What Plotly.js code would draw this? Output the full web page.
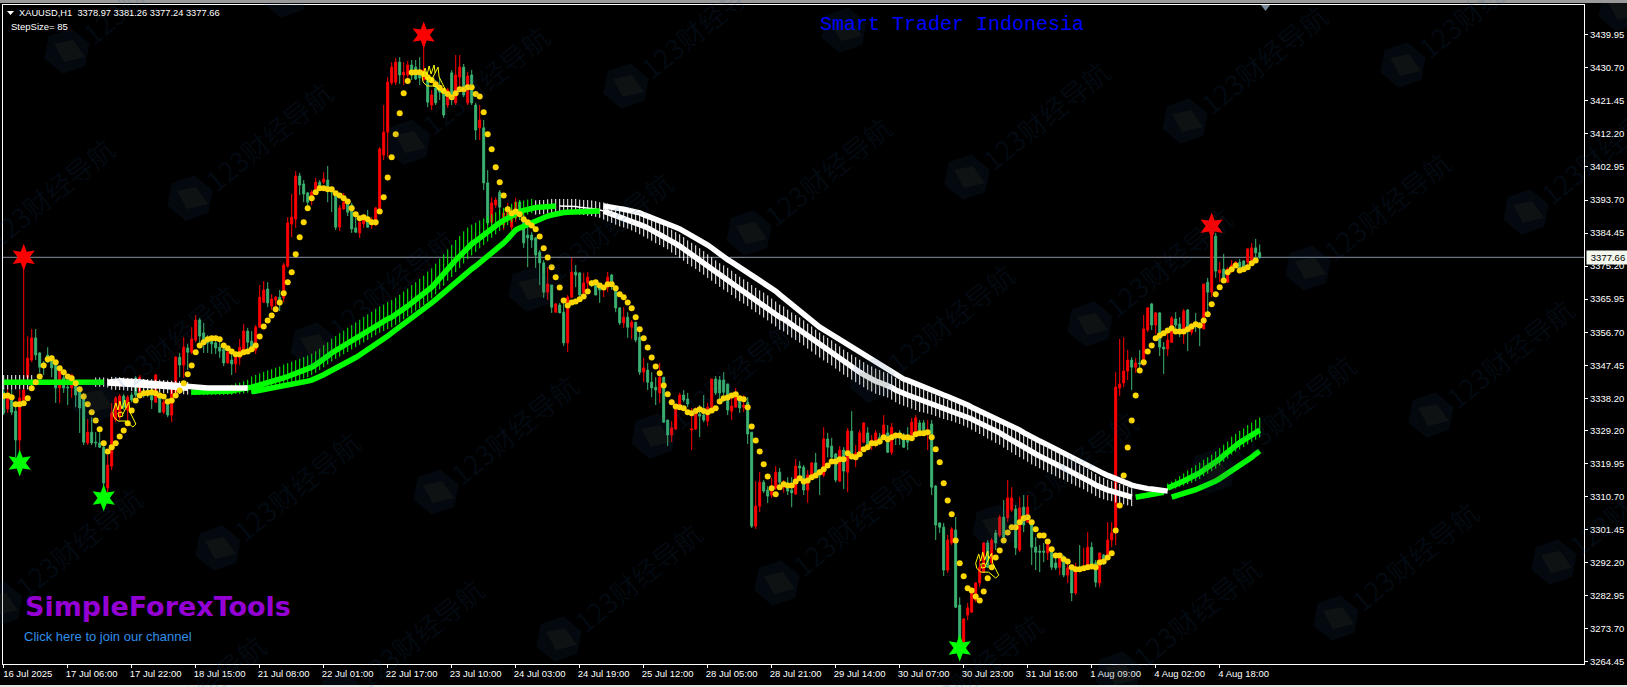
<!DOCTYPE html>
<html><head><meta charset="utf-8">
<script src="https://cdn.plot.ly/plotly-3.0.1.min.js"></script>
<style>html,body{margin:0;padding:0;background:#000;overflow:hidden}</style>
</head><body><div id="chart" style="width:1627px;height:687px"></div>
<script>
const opens=[
3339.9,3335.2,3338.5,3334.6,3326.5,3337.7,3344.1,3348.9,3355.1,3350.9,
3348.1,3350.3,3349.7,3348.3,3341.1,3343.9,3341.3,3341.1,3341.9,3341.1,
3339.1,3325.7,3328.7,3325.9,3325.7,3324.5,3313.1,3319.2,3332.1,3332.9,
3338.8,3334.9,3339.1,3343.9,3339.9,3340.2,3340.5,3339.9,3337.1,3338.3,
3334.3,3337.1,3333.5,3339.9,3349.7,3347.5,3352.3,3351.1,3354.5,3360.1,
3356.5,3354.5,3354.2,3353.7,3352.5,3352.0,3348.1,3348.9,3347.8,3349.5,
3351.7,3357.0,3354.2,3351.7,3358.1,3365.1,3368.8,3364.0,3365.7,3366.5,
3366.3,3375.2,3387.0,3388.4,3400.4,3398.2,3395.7,3394.3,3396.5,3398.7,
3398.7,3399.3,3397.1,3395.7,3386.1,3391.2,3392.9,3392.3,3385.9,3384.5,
3387.0,3388.7,3386.7,3386.7,3390.9,3406.3,3412.7,3426.5,3426.7,3432.3,
3428.7,3428.7,3431.5,3430.9,3429.5,3427.3,3427.3,3420.3,3425.1,3425.1,
3424.5,3420.3,3429.3,3420.9,3428.1,3430.9,3420.9,3428.7,3420.3,3413.9,
3413.9,3398.5,3387.5,3392.3,3395.9,3386.7,3388.7,3386.1,3388.7,3393.1,
3388.7,3383.9,3383.9,3383.1,3379.1,3376.1,3367.9,3369.9,3362.3,3364.3,
3362.3,3353.7,3366.5,3373.5,3373.3,3367.7,3370.5,3370.7,3369.9,3369.3,
3369.1,3369.3,3372.7,3369.3,3363.5,3359.3,3360.9,3358.1,3359.5,3355.3,
3345.5,3346.1,3342.7,3341.3,3339.7,3344.1,3332.1,3327.9,3329.6,3335.7,
3339.1,3338.0,3329.3,3329.6,3333.8,3333.5,3331.8,3335.7,3343.6,3343.3,
3343.3,3342.2,3334.6,3335.7,3338.0,3335.7,3337.1,3328.7,3302.4,3308.0,
3314.7,3312.5,3311.1,3313.1,3317.5,3313.3,3314.5,3312.5,3311.4,3319.2,
3318.9,3312.5,3316.7,3320.1,3317.3,3316.7,3326.8,3324.8,3322.6,3315.0,
3323.7,3317.5,3329.0,3321.5,3323.1,3325.9,3328.5,3325.7,3325.7,3327.3,
3327.3,3328.5,3323.1,3327.6,3328.5,3327.3,3327.3,3327.9,3328.5,3331.3,
3331.3,3328.5,3331.0,3313.6,3303.3,3302.1,3290.1,3297.7,3301.3,3280.3,
3269.9,3277.5,3278.3,3281.7,3286.5,3289.5,3297.7,3292.1,3300.5,3299.9,
3304.9,3304.7,3306.9,3307.2,3295.7,3307.7,3303.5,3303.5,3296.5,3295.4,
3295.4,3294.9,3295.7,3292.1,3290.9,3293.7,3288.7,3290.9,3283.7,3290.9,
3290.1,3290.7,3296.5,3292.1,3286.5,3294.3,3293.7,3298.5,3300.5,3341.1,
3342.5,3345.8,3348.9,3346.9,3348.1,3347.5,3357.3,3364.6,3358.7,3362.1,
3352.5,3352.0,3353.9,3360.4,3359.0,3356.7,3362.9,3356.7,3359.3,3359.3,
3357.6,3370.7,3367.9,3383.6,3373.3,3374.4,3370.7,3374.1,3374.9,3376.3,
3376.6,3376.3,3376.9,3380.3,3378.97];
const highs=[
3341.1,3341.1,3340.8,3336.9,3340.5,3377.7,3355.6,3357.6,3357.6,3351.1,
3348.6,3352.5,3350.3,3348.9,3346.7,3344.7,3344.7,3345.0,3342.5,3341.3,
3339.7,3332.4,3332.9,3328.7,3328.7,3325.9,3322.3,3336.9,3338.8,3339.4,
3339.4,3339.1,3339.9,3344.4,3344.7,3340.8,3341.1,3341.1,3345.0,3339.7,
3337.7,3337.7,3343.0,3350.0,3350.9,3355.3,3353.4,3358.1,3361.5,3360.7,
3359.3,3355.9,3355.3,3355.1,3355.1,3352.5,3352.5,3351.7,3350.9,3354.8,
3359.0,3357.9,3357.0,3358.7,3369.9,3371.0,3370.7,3367.4,3366.8,3368.5,
3376.1,3388.9,3395.4,3401.8,3401.3,3399.3,3395.9,3396.5,3399.9,3399.3,
3401.5,3403.2,3397.3,3395.9,3392.3,3395.7,3393.1,3392.9,3390.1,3388.9,
3389.5,3390.9,3388.9,3391.7,3408.5,3420.3,3428.1,3432.3,3433.5,3433.7,
3432.3,3432.6,3432.9,3432.9,3433.7,3439.9,3428.7,3424.5,3427.3,3427.9,
3425.1,3425.1,3430.1,3434.3,3434.3,3431.8,3429.5,3430.1,3420.9,3420.3,
3416.1,3402.1,3394.5,3394.5,3396.5,3390.9,3392.9,3391.5,3394.3,3393.7,
3389.5,3388.1,3384.7,3383.3,3379.7,3376.9,3374.9,3369.9,3364.9,3364.9,
3365.7,3367.1,3377.5,3375.5,3373.5,3373.3,3373.5,3371.3,3371.3,3370.5,
3369.6,3373.5,3373.0,3369.9,3363.7,3363.7,3362.3,3360.1,3359.5,3358.1,
3349.5,3348.1,3345.5,3344.1,3348.1,3344.1,3332.1,3331.8,3336.3,3339.7,
3340.5,3339.7,3335.5,3335.7,3336.3,3339.1,3336.9,3343.6,3344.4,3344.4,
3345.5,3342.2,3338.3,3341.1,3338.5,3339.1,3338.5,3328.7,3315.0,3317.5,
3315.3,3313.6,3315.9,3319.2,3318.7,3315.3,3316.1,3316.1,3321.2,3320.6,
3319.5,3318.1,3320.3,3322.9,3318.4,3330.1,3328.5,3327.1,3322.9,3324.8,
3324.5,3329.9,3334.6,3325.1,3329.3,3331.5,3330.1,3327.9,3329.3,3328.5,
3333.5,3330.7,3331.3,3328.5,3329.3,3328.5,3330.1,3332.7,3333.5,3332.1,
3332.1,3332.1,3332.1,3313.9,3303.3,3303.3,3299.9,3302.1,3304.9,3282.5,
3276.7,3280.9,3283.9,3286.7,3292.9,3297.9,3298.5,3299.1,3301.3,3305.5,
3309.7,3315.3,3313.3,3308.3,3310.5,3311.1,3311.1,3304.1,3299.3,3297.1,
3297.7,3298.5,3296.5,3294.3,3294.9,3294.3,3292.1,3290.9,3292.1,3297.1,
3296.3,3300.7,3297.9,3292.9,3294.9,3294.6,3303.5,3303.5,3345.5,3354.8,
3355.3,3351.7,3349.7,3349.5,3351.7,3361.5,3363.7,3364.9,3362.3,3362.3,
3353.9,3357.3,3361.2,3362.3,3360.9,3363.2,3363.2,3359.3,3362.1,3359.5,
3370.2,3371.9,3384.2,3384.5,3376.3,3378.6,3374.9,3376.9,3376.6,3377.2,
3376.9,3380.3,3381.7,3382.8,3381.26];
const lows=[
3333.5,3334.1,3333.5,3321.7,3323.1,3337.1,3342.7,3348.3,3348.9,3345.3,
3344.7,3348.1,3344.1,3336.9,3336.9,3339.7,3336.3,3338.3,3335.7,3328.5,
3325.1,3325.1,3325.1,3324.5,3324.3,3313.1,3311.7,3318.1,3331.5,3332.1,
3334.9,3330.7,3337.1,3338.5,3338.5,3338.3,3338.5,3335.2,3336.9,3334.1,
3333.8,3332.9,3331.5,3339.7,3344.1,3343.9,3346.1,3350.6,3353.9,3352.5,
3350.9,3350.9,3350.6,3350.6,3349.5,3347.2,3347.8,3344.7,3345.3,3347.5,
3351.1,3351.1,3351.1,3350.6,3357.9,3364.9,3363.7,3362.9,3362.3,3362.6,
3365.1,3374.7,3383.3,3385.9,3395.1,3393.1,3391.7,3392.3,3395.1,3396.5,
3398.2,3393.1,3390.3,3385.3,3385.0,3390.9,3389.2,3384.5,3384.5,3383.1,
3385.9,3385.9,3385.6,3386.4,3390.3,3404.9,3405.7,3425.9,3425.9,3426.2,
3425.9,3427.9,3427.3,3427.3,3425.9,3427.3,3419.7,3418.9,3420.3,3421.7,
3416.7,3419.5,3420.3,3420.3,3424.5,3422.5,3420.3,3420.3,3410.5,3410.5,
3396.5,3386.7,3385.9,3391.5,3389.5,3385.3,3387.5,3385.3,3387.5,3388.1,
3380.3,3374.9,3380.3,3374.7,3369.9,3366.3,3365.7,3362.1,3362.1,3362.1,
3352.8,3351.1,3366.3,3369.3,3366.5,3367.1,3367.9,3369.3,3367.1,3364.9,
3366.5,3367.9,3368.5,3362.3,3358.7,3357.9,3355.1,3354.8,3353.9,3344.7,
3342.7,3340.5,3338.5,3336.3,3336.9,3331.3,3324.8,3325.9,3329.3,3335.5,
3337.1,3335.7,3323.7,3329.3,3327.3,3331.5,3330.4,3335.5,3339.1,3337.1,
3337.1,3333.5,3332.1,3335.7,3334.1,3334.3,3325.4,3301.9,3301.6,3306.3,
3311.7,3308.9,3310.3,3312.5,3313.1,3311.7,3311.1,3307.7,3311.1,3315.3,
3311.1,3308.9,3316.4,3316.7,3311.1,3316.1,3321.7,3320.9,3314.7,3314.7,
3312.8,3311.9,3321.7,3318.9,3322.9,3325.7,3323.7,3323.7,3324.5,3325.1,
3326.5,3322.9,3322.3,3325.1,3325.1,3324.3,3323.7,3327.3,3327.9,3328.2,
3328.5,3323.7,3311.1,3298.5,3300.5,3288.4,3289.3,3297.1,3279.5,3269.1,
3269.7,3276.1,3278.1,3281.1,3285.3,3289.3,3290.7,3291.5,3295.7,3299.3,
3298.5,3303.5,3306.3,3294.3,3295.1,3300.7,3303.3,3291.5,3290.1,3289.5,
3292.3,3292.9,3290.1,3290.1,3288.7,3288.1,3286.5,3281.4,3283.1,3289.5,
3289.8,3290.1,3290.7,3285.3,3285.3,3291.5,3293.7,3296.5,3297.1,3338.8,
3341.3,3343.3,3340.5,3345.3,3346.1,3347.2,3356.7,3357.3,3356.2,3350.0,
3345.0,3350.0,3353.7,3356.2,3355.3,3353.4,3351.4,3355.9,3356.7,3352.8,
3357.6,3360.9,3366.5,3371.9,3370.7,3371.3,3370.5,3373.3,3374.7,3373.5,
3374.1,3375.5,3376.3,3377.5,3377.24];
const closes=[
3334.1,3338.5,3334.3,3326.5,3338.3,3340.5,3349.4,3355.1,3350.3,3346.9,
3346.9,3348.3,3346.7,3341.1,3346.7,3341.1,3341.1,3344.7,3339.1,3335.5,
3325.9,3328.7,3325.7,3325.7,3324.5,3314.5,3319.5,3334.1,3338.3,3338.8,
3335.7,3338.5,3337.7,3339.1,3344.1,3339.4,3339.7,3337.7,3344.7,3334.3,
3337.1,3333.5,3342.7,3349.7,3347.5,3352.5,3351.1,3354.8,3360.1,3355.6,
3354.5,3353.7,3353.4,3352.3,3351.4,3348.1,3351.1,3347.8,3349.7,3352.5,
3357.0,3353.9,3352.3,3358.1,3366.5,3368.5,3364.9,3366.0,3366.5,3364.3,
3375.5,3387.3,3388.9,3400.4,3397.9,3395.4,3393.1,3395.9,3398.7,3397.3,
3399.6,3397.1,3395.9,3386.1,3391.5,3393.1,3390.3,3385.6,3384.7,3387.5,
3388.7,3386.1,3388.1,3391.5,3408.0,3412.7,3426.7,3430.9,3432.3,3428.7,
3429.5,3431.5,3428.7,3427.6,3427.9,3430.1,3421.1,3423.1,3420.9,3423.9,
3417.5,3424.5,3423.1,3428.7,3430.9,3423.1,3428.4,3420.9,3413.3,3416.1,
3398.5,3387.3,3392.9,3393.7,3391.7,3390.1,3391.5,3390.3,3393.1,3389.5,
3381.7,3383.1,3382.5,3378.3,3376.1,3367.9,3370.2,3363.7,3364.6,3362.1,
3353.7,3366.5,3373.5,3372.7,3367.1,3370.5,3372.1,3369.9,3367.1,3368.5,
3369.3,3372.1,3370.7,3363.5,3359.3,3360.9,3358.1,3359.5,3354.5,3345.5,
3346.7,3342.7,3341.1,3340.5,3344.1,3331.5,3327.9,3329.9,3335.7,3339.1,
3337.7,3336.6,3329.6,3334.9,3333.2,3332.1,3335.7,3343.6,3339.7,3339.7,
3339.9,3334.9,3336.0,3339.1,3335.5,3336.3,3328.2,3302.4,3308.0,3314.7,
3312.2,3310.8,3313.3,3317.5,3314.7,3314.7,3312.2,3311.7,3319.2,3318.7,
3312.5,3316.7,3320.1,3317.3,3316.7,3326.8,3324.5,3321.7,3315.3,3323.7,
3317.8,3329.0,3322.3,3322.9,3328.5,3331.3,3324.5,3326.5,3328.5,3325.7,
3330.7,3323.1,3330.1,3327.1,3327.1,3324.5,3325.9,3331.5,3332.7,3328.5,
3328.7,3329.3,3313.3,3302.7,3302.1,3290.1,3298.5,3301.6,3279.7,3270.5,
3276.4,3279.5,3283.7,3286.5,3290.9,3297.7,3290.9,3298.5,3297.7,3304.9,
3299.3,3310.3,3310.3,3296.3,3307.5,3302.7,3307.7,3296.5,3295.1,3295.1,
3295.1,3297.7,3290.9,3290.7,3293.7,3288.7,3290.7,3283.7,3290.1,3290.1,
3290.9,3296.5,3290.9,3286.7,3294.9,3292.1,3298.5,3300.5,3341.3,3342.2,
3345.8,3348.9,3346.9,3348.1,3347.8,3357.6,3363.5,3358.7,3362.1,3352.5,
3352.0,3354.5,3360.7,3358.7,3357.6,3362.6,3357.3,3358.7,3358.4,3357.9,
3370.2,3367.9,3383.9,3373.8,3374.1,3371.9,3374.4,3375.5,3376.3,3374.1,
3374.7,3380.0,3380.3,3378.9,3377.66];
const trendDots=[
3338.8,3339.0,3338.5,3336.5,3336.5,3336.8,3338.2,3341.0,3342.7,3344.3,
3347.4,3349.1,3349.4,3348.3,3346.6,3345.5,3344.3,3343.8,3342.4,3340.7,
3338.7,3336.5,3334.3,3332.0,3329.5,3325.6,3323.3,3324.5,3325.6,3327.5,
3329.2,3331.2,3334.8,3337.6,3339.0,3339.6,3339.7,3339.9,3339.6,3339.0,
3338.7,3337.3,3337.6,3339.0,3340.4,3342.4,3344.9,3347.4,3351.1,3353.0,
3353.9,3354.7,3355.0,3355.0,3354.7,3353.0,3352.2,3351.3,3350.5,3350.5,
3351.1,3351.3,3351.9,3353.0,3355.5,3358.3,3360.0,3361.4,3363.1,3365.0,
3367.6,3370.7,3373.5,3378.5,3383.3,3387.5,3391.4,3394.2,3395.9,3397.0,
3397.0,3396.7,3396.7,3395.6,3395.0,3394.2,3393.3,3391.4,3389.7,3388.6,
3388.9,3388.3,3387.5,3387.5,3390.5,3394.5,3400.0,3405.7,3412.1,3418.0,
3423.6,3427.0,3429.4,3429.5,3429.5,3429.0,3428.1,3427.2,3426.1,3425.1,
3424.2,3423.4,3422.5,3423.6,3424.7,3424.7,3425.3,3425.3,3423.4,3422.7,
3418.3,3412.1,3407.9,3402.9,3398.7,3395.0,3391.1,3390.0,3390.5,3389.7,
3388.3,3387.5,3386.6,3385.5,3383.5,3380.2,3377.6,3374.9,3372.1,3369.2,
3365.6,3364.2,3365.0,3365.3,3365.9,3366.7,3368.1,3370.4,3370.7,3369.8,
3369.2,3370.1,3370.1,3369.0,3367.3,3366.5,3365.0,3363.4,3360.9,3357.5,
3355.0,3352.4,3349.6,3347.1,3345.2,3341.8,3339.3,3337.1,3335.9,3335.7,
3335.4,3334.3,3334.0,3334.6,3335.1,3334.6,3334.3,3334.8,3335.4,3337.3,
3338.2,3338.4,3339.0,3339.3,3338.2,3337.9,3335.7,3330.3,3326.4,3323.3,
3319.7,3316.3,3313.0,3311.3,3313.3,3314.1,3313.8,3313.8,3314.9,3315.8,
3314.9,3315.2,3316.1,3316.6,3317.5,3318.3,3319.4,3320.5,3320.5,3321.1,
3321.1,3322.8,3321.9,3321.7,3322.5,3323.9,3324.5,3325.6,3325.6,3326.1,
3327.3,3326.7,3327.3,3327.8,3327.8,3327.3,3327.3,3327.0,3328.1,3328.4,
3328.4,3328.7,3327.3,3323.9,3320.3,3314.4,3309.6,3305.7,3298.4,3292.0,
3288.4,3285.0,3284.4,3282.7,3281.6,3284.1,3287.8,3290.9,3293.6,3295.6,
3298.4,3300.6,3302.1,3302.1,3303.5,3304.6,3304.9,3303.5,3301.5,3299.8,
3299.8,3298.1,3295.9,3294.2,3294.2,3293.1,3292.5,3290.9,3290.3,3290.3,
3290.6,3290.9,3291.1,3290.9,3292.2,3292.5,3293.6,3294.8,3301.2,3308.2,
3316.6,3324.4,3332.0,3339.0,3346.0,3348.3,3351.3,3353.0,3355.0,3355.8,
3356.4,3357.2,3357.8,3356.9,3356.9,3356.9,3357.5,3358.3,3358.9,3358.6,
3360.0,3361.7,3364.5,3367.3,3369.3,3371.2,3373.5,3374.3,3375.4,3374.0,
3374.3,3374.9,3376.0,3376.8];
const fastLine=[
3342.7,3342.7,3342.7,3342.7,3342.7,3342.7,3342.7,3342.7,3342.7,3342.7,
3342.7,3342.7,3342.7,3342.7,3342.7,3342.7,3342.7,3342.7,3342.7,3342.7,
3342.7,3342.7,3342.7,3342.7,3342.7,3342.7,3342.5,3342.4,3342.3,3342.3,
3342.2,3342.1,3342.0,3342.0,3341.9,3341.8,3341.8,3341.7,3341.6,3341.6,
3341.5,3341.4,3341.3,3341.3,3341.2,3341.1,3341.0,3339.9,3339.9,3339.9,
3339.9,3339.9,3339.9,3339.9,3339.9,3339.9,3340.1,3340.2,3340.5,3340.6,
3340.8,3341.1,3341.3,3341.6,3341.9,3342.2,3342.5,3342.7,3343.0,3343.3,
3343.9,3344.3,3344.7,3345.1,3345.5,3346.0,3346.4,3346.9,3347.6,3348.3,
3349.2,3350.0,3350.9,3351.6,3352.3,3353.0,3353.7,3354.4,3355.1,3355.8,
3356.5,3357.2,3357.9,3358.6,3359.3,3359.8,3360.4,3360.9,3361.6,3362.3,
3363.2,3364.0,3364.9,3365.7,3366.5,3367.4,3368.4,3369.3,3370.5,3371.9,
3373.0,3374.4,3375.5,3376.9,3378.0,3379.3,3380.5,3381.4,3382.2,3383.1,
3383.9,3384.7,3385.6,3386.4,3387.3,3388.0,3388.7,3389.4,3390.1,3390.5,
3390.8,3391.2,3391.5,3391.6,3391.7,3391.7,3391.9,3392.0,3392.0,3392.0,
3392.0,3392.0,3391.9,3391.9,3391.7,3391.6,3391.5,3391.4,3391.2,3390.9,
3390.6,3390.2,3389.8,3389.4,3388.9,3388.7,3388.4,3388.0,3387.5,3387.0,
3386.4,3385.9,3385.3,3384.7,3384.2,3383.6,3383.1,3382.2,3381.5,3380.8,
3380.0,3379.1,3378.4,3377.7,3376.9,3376.1,3375.2,3374.4,3373.5,3372.7,
3372.0,3371.3,3370.5,3369.6,3368.8,3368.1,3367.4,3366.5,3365.7,3365.0,
3364.3,3363.5,3362.6,3361.8,3360.9,3360.4,3359.5,3358.7,3358.0,3357.3,
3356.5,3355.6,3354.8,3353.9,3353.1,3352.3,3351.6,3350.9,3350.0,3349.2,
3348.3,3347.6,3346.9,3346.2,3345.5,3344.8,3344.1,3343.6,3343.0,3342.6,
3342.2,3341.8,3341.2,3340.5,3339.9,3339.5,3339.1,3338.7,3338.3,3337.8,
3337.4,3337.0,3336.6,3336.2,3335.7,3335.3,3334.9,3334.6,3334.2,3333.8,
3333.4,3332.9,3332.4,3331.8,3331.3,3330.7,3330.1,3329.6,3329.0,3328.5,
3327.8,3327.1,3326.4,3325.7,3325.1,3324.5,3323.8,3323.1,3322.6,3322.0,
3321.5,3320.9,3320.3,3319.8,3319.2,3318.7,3318.1,3317.5,3317.0,3316.4,
3315.9,3315.2,3314.6,3313.9,3313.3,3312.9,3312.5,3312.2,3311.8,3311.5,
3311.2,3310.8,3310.5,3310.5,3310.7,3310.8,3311.0,3311.1,3311.4,3311.7,
3311.9,3313.1,3313.5,3313.9,3314.5,3315.0,3315.6,3316.1,3316.7,3317.3,
3318.1,3318.8,3319.5,3320.3,3321.2,3322.2,3323.1,3324.3,3325.1,3325.8,
3326.5,3327.3,3328.0,3328.7,3329.3];
const slowLine=[
3342.7,3342.7,3342.7,3342.7,3342.7,3342.7,3342.7,3342.7,3342.7,3342.7,
3342.7,3342.7,3342.7,3342.7,3342.7,3342.7,3342.7,3342.7,3342.7,3342.7,
3342.7,3342.7,3342.7,3342.7,3342.7,3342.7,3342.7,3342.9,3343.1,3343.1,
3343.0,3343.0,3342.9,3342.8,3342.8,3342.7,3342.5,3342.4,3342.3,3342.2,
3342.1,3341.9,3341.8,3341.7,3341.5,3341.4,3341.3,3341.3,3341.2,3341.2,
3341.1,3341.1,3341.1,3341.1,3341.1,3341.1,3341.1,3341.1,3341.1,3341.1,
3341.1,3341.1,3340.0,3340.2,3340.4,3340.5,3340.6,3340.8,3341.1,3341.3,
3341.6,3341.8,3342.1,3342.3,3342.5,3342.7,3343.0,3343.3,3343.7,3344.3,
3344.8,3345.4,3346.0,3346.4,3346.8,3347.5,3348.1,3348.9,3349.6,3350.3,
3351.0,3351.7,3352.4,3353.1,3353.9,3354.8,3355.6,3356.5,3357.3,3358.1,
3359.0,3359.8,3360.7,3361.5,3362.3,3363.2,3364.0,3364.9,3365.8,3366.8,
3367.7,3368.6,3369.6,3370.6,3371.6,3372.6,3373.5,3374.4,3375.2,3376.1,
3376.9,3377.7,3378.6,3379.6,3380.5,3381.7,3382.8,3384.0,3385.3,3385.9,
3386.4,3387.0,3387.5,3388.0,3388.4,3388.8,3389.2,3389.5,3389.8,3390.1,
3390.2,3390.3,3390.3,3390.4,3390.4,3390.5,3390.6,3390.6,3390.6,3390.6,
3392.0,3391.9,3391.7,3391.5,3391.3,3391.1,3390.9,3390.6,3390.3,3390.1,
3389.6,3389.2,3388.8,3388.4,3388.0,3387.5,3387.3,3386.7,3386.1,3385.6,
3385.0,3384.5,3383.9,3383.2,3382.5,3381.8,3381.1,3380.3,3379.4,3378.6,
3377.7,3377.0,3376.3,3375.6,3374.9,3374.2,3373.5,3372.8,3372.1,3371.4,
3370.7,3369.9,3369.1,3368.2,3367.2,3366.3,3365.4,3364.4,3363.5,3362.3,
3361.5,3360.7,3359.8,3359.0,3358.1,3357.4,3356.7,3355.9,3355.2,3354.5,
3353.7,3353.0,3352.3,3351.6,3350.9,3350.2,3349.5,3348.8,3348.1,3347.4,
3346.8,3346.1,3345.5,3344.8,3344.1,3343.6,3343.2,3342.7,3342.2,3341.8,
3341.3,3340.9,3340.5,3339.9,3339.5,3339.1,3338.7,3338.3,3337.8,3337.4,
3336.9,3336.3,3335.7,3335.2,3334.6,3334.1,3333.6,3333.2,3332.7,3332.1,
3331.5,3331.0,3330.4,3329.9,3329.3,3328.6,3327.9,3327.3,3326.8,3326.2,
3325.7,3325.1,3324.5,3324.0,3323.4,3322.9,3322.3,3321.7,3321.2,3320.6,
3320.1,3319.4,3318.8,3318.1,3317.5,3317.1,3316.6,3316.1,3315.7,3315.3,
3314.9,3314.3,3313.9,3313.6,3313.3,3313.1,3312.9,3312.8,3312.6,3312.5,
3312.4,3312.2,3310.5,3310.8,3311.1,3311.4,3311.8,3312.2,3312.6,3313.1,
3313.5,3313.9,3314.5,3315.0,3315.7,3316.4,3317.1,3317.8,3318.7,3319.5,
3320.2,3320.9,3321.7,3322.6,3323.4];
const hairHalf=[
2,2,2,2,2,2,2,2,0,0,
0,0,0,0,0,0,0,0,0,0,
0,0,0,1.3,1.3,1.3,1.3,1.8,1.8,1.8,
1.8,1.8,1.8,1.8,1.8,1.8,1.8,1.8,1.8,1.8,
1.8,1.8,1.8,1.8,1.8,1.8,1.8,1.1,1.1,1.1,
1.1,1.1,1.1,1.1,1.1,1.1,1.3,1.4,1.5,1.6,
1.7,1.8,2.4,2.5,2.6,2.7,2.8,2.9,3.0,3.0,
3.0,3.0,3.0,3.0,3.0,3.0,3.0,3.0,3.0,3.0,
3.1,3.1,3.2,3.2,3.3,3.3,3.4,3.4,3.5,3.5,
3.6,3.6,3.6,3.7,3.7,3.7,3.8,3.8,3.8,3.9,
3.9,3.9,4.0,4.0,4.1,4.1,4.2,4.2,4.3,4.3,
4.4,4.4,4.5,4.5,4.5,4.5,4.4,4.3,4.1,3.9,
3.7,3.5,3.3,3.1,3.0,2.8,2.7,2.6,2.5,2.4,
2.2,2.1,2.0,2.0,2.0,2.0,2.0,2.0,2.0,2.0,
2.0,2.0,2.1,2.1,2.1,2.1,2.2,2.2,2.2,2.2,
2.4,2.5,2.5,2.6,2.6,2.7,2.7,2.8,2.8,2.9,
2.9,3.0,3.0,3.1,3.1,3.1,3.2,3.2,3.2,3.3,
3.3,3.3,3.3,3.3,3.3,3.3,3.3,3.3,3.3,3.3,
3.4,3.4,3.4,3.4,3.4,3.4,3.4,3.4,3.4,3.4,
3.5,3.5,3.5,3.5,3.5,3.5,3.5,3.5,3.5,3.5,
3.5,3.5,3.5,3.5,3.5,3.5,3.5,3.5,3.5,3.5,
3.5,3.5,3.5,3.5,3.5,3.5,3.5,3.5,3.5,3.5,
3.4,3.4,3.4,3.4,3.4,3.4,3.4,3.4,3.4,3.4,
3.2,3.1,3.0,3.0,2.9,2.9,2.8,2.8,2.8,2.8,
2.9,2.9,3.0,3.0,3.1,3.1,3.2,3.2,3.3,3.3,
3.4,3.4,3.4,3.4,3.4,3.4,3.4,3.4,3.4,3.4,
3.4,3.4,3.4,3.4,3.4,3.3,3.3,3.3,3.3,3.2,
3.2,3.2,3.1,3.1,3.0,3.0,2.9,2.8,2.8,2.7,
2.7,2.6,2.5,0,0,0,0,0,0,0,
0,1.0,1.1,1.3,1.5,1.7,1.9,2.1,2.2,2.3,
2.3,2.3,2.3,2.4,2.4,2.4,2.4,2.5,2.5,2.6,
2.6,2.7,2.7,2.8,2.8];
const starRedX=[5,105,302], starRedY=[3377.7,3439.9,3386.4];
const starGreenX=[4,25,239], starGreenY=[3320.1,3310.3,3268.3];
const handX=[27.3,104.6,243], handY=[3337.7,3431.5,3295.4];
const priceTicks=[3439.95,3430.70,3421.45,3412.20,3402.95,3393.70,3384.45,3375.20,3365.95,3356.70,3347.45,3338.20,3329.20,3319.95,3310.70,3301.45,3292.20,3282.95,3273.70,3264.45];
const priceLabels=["3439.95","3430.70","3421.45","3412.20","3402.95","3393.70","3384.45","3375.20","3365.95","3356.70","3347.45","3338.20","3329.20","3319.95","3310.70","3301.45","3292.20","3282.95","3273.70","3264.45"];
const timeTicks=[0,16,32,48,64,80,96,112,128,144,160,176,192,208,224,240,256,272,288,304];
const timeLabels=["16 Jul 2025","17 Jul 06:00","17 Jul 22:00","18 Jul 15:00","21 Jul 08:00","22 Jul 01:00","22 Jul 17:00","23 Jul 10:00","24 Jul 03:00","24 Jul 19:00","25 Jul 12:00","28 Jul 05:00","28 Jul 21:00","29 Jul 14:00","30 Jul 07:00","30 Jul 23:00","31 Jul 16:00","1 Aug 09:00","4 Aug 02:00","4 Aug 18:00"];
const lastClose=3377.66;

const RED='#ff0000', SEA='#3cb371', LIME='#00ff00', WHITE='#ffffff', GOLD='#ffd700';
const L=3,T=5,W=1581,H=659;
const px=x=>(x-L)/W, py=y=>(T+H-y)/H;
const bars=opens.map((_,i)=>i);

function seg(arr,a,b){return arr.slice(a,b+1)}
function thick(arr,a,b,color,width){
  return {type:'scatter',mode:'lines',x:seg(bars,a,b),y:seg(arr,a,b),line:{color,width:width||5.5},hoverinfo:'skip',showlegend:false};
}
function hairs(a,b,color,lift){
  const half=seg(hairHalf,a,b);
  return {type:'scatter',mode:'lines',x:seg(bars,a,b),y:seg(fastLine,a,b).map((v,k)=>v+half[k]*lift),
    line:{width:0,color:'rgba(0,0,0,0)'},hoverinfo:'skip',showlegend:false,
    error_y:{type:'data',symmetric:true,array:half,thickness:1,width:0,color}};
}
const traces=[
 {type:'candlestick',x:bars,open:opens,high:highs,low:lows,close:closes,
  increasing:{line:{color:RED,width:1},fillcolor:RED},decreasing:{line:{color:SEA,width:1},fillcolor:SEA},
  whiskerwidth:0,hoverinfo:'skip',showlegend:false},
 hairs(0,46,WHITE,0), hairs(47,132,LIME,0.25), hairs(133,290,WHITE,0), hairs(291,314,LIME,0.25),
 thick(fastLine,0,25,LIME), thick(fastLine,26,46,WHITE), thick(fastLine,47,138,LIME),
 thick(fastLine,139,150,WHITE,1.5), thick(fastLine,150,282,WHITE), thick(fastLine,283,290,LIME), thick(fastLine,291,314,LIME),
 thick(slowLine,26,61,WHITE), thick(slowLine,62,149,LIME), thick(slowLine,150,291,WHITE), thick(slowLine,292,314,LIME),
 {type:'scatter',mode:'markers',x:bars.slice(0,trendDots.length),y:trendDots,marker:{color:GOLD,size:6},hoverinfo:'skip',showlegend:false},
 {type:'scatter',mode:'markers',x:starRedX,y:starRedY,marker:{symbol:'hexagram',color:RED,size:10},hoverinfo:'skip',showlegend:false},
 {type:'scatter',mode:'markers',x:starGreenX,y:starGreenY,marker:{symbol:'hexagram',color:LIME,size:10},hoverinfo:'skip',showlegend:false}
];

const annotations=[], shapes=[];
function note(text,x,y,size,color,family,extra){
  annotations.push(Object.assign({text,xref:'paper',yref:'paper',x:px(x-2),y:py(y),xanchor:'left',yanchor:'middle',showarrow:false,
    font:{size,color,family}},extra||{}));
}
// watermark lattice
const mark='rgba(30,80,140,0.11)';
function polyPath(pts){return 'M'+pts.map(p=>px(p[0]).toFixed(5)+','+py(p[1]).toFixed(5)).join(' L')+' Z'}
for(let m=-6;m<=14;m++){for(let n=-6;n<=10;n++){
  const cx=190+m*123+n*95, cy=198+m*147-n*203;
  if(cx<-120||cx>1720||cy<-60||cy>760) continue;
  const hex=[];for(let k=0;k<6;k++){const a=(k*60-20)*Math.PI/180;hex.push([cx+24*Math.cos(a),cy+23*Math.sin(a)])}
  shapes.push({type:'path',xref:'paper',yref:'paper',path:polyPath(hex),fillcolor:mark,line:{width:0},layer:'above'});
  shapes.push({type:'path',xref:'paper',yref:'paper',path:polyPath([[cx-13,cy-7],[cx+6,cy-11],[cx+18,cy+6],[cx-3,cy+11]]),fillcolor:'rgba(110,90,50,0.12)',line:{width:0},layer:'above'});
  const tx=cx+78, ty=cy-62;
  if(tx<-15||tx>1642||ty<-15||ty>702) continue;
  annotations.push({text:'123财经导航',xref:'paper',yref:'paper',x:px(tx),y:py(ty),xanchor:'center',yanchor:'middle',textangle:-39,showarrow:false,
    font:{size:27,color:'rgba(30,80,140,0.13)',family:'"Noto Sans CJK SC"'}});
}}
// labels
const ui='"Liberation Sans"';
note('XAUUSD,H1  3378.97 3381.26 3377.24 3377.66',19,13,9.3,WHITE,ui);
note('StepSize= 85',11,27,9.5,WHITE,ui);
note('Smart Trader Indonesia',820,25,20,'#0000ff','"Liberation Mono"');
note('<b>SimpleForexTools</b>',25,606,27,'#9400d3','"DejaVu Sans"');
note('Click here to join our channel',24,636,13,'#2f8fe8',ui);
annotations.push({text:'3377.66',xref:'paper',yref:'y',x:1.001,y:lastClose,xanchor:'left',yanchor:'middle',showarrow:false,
  bgcolor:'#f4f7ee',borderpad:1,font:{size:9.5,color:'#000',family:ui},width:40});
// chart furniture
shapes.push({type:'line',xref:'paper',yref:'y',x0:0,x1:1,y0:lastClose,y1:lastClose,line:{color:'#8a93a0',width:1},layer:'below'});
shapes.push({type:'path',xref:'paper',yref:'paper',path:polyPath([[7,11],[14,11],[10.5,15]]),fillcolor:WHITE,line:{width:0},layer:'above'});
shapes.push({type:'path',xref:'paper',yref:'paper',path:polyPath([[1261,5],[1270,5],[1265.5,11]]),fillcolor:'#778899',line:{width:0},layer:'above'});
shapes.push({type:'rect',xref:'paper',yref:'paper',x0:px(0),x1:px(1627),y0:py(3),y1:py(0),fillcolor:'#9a9a9a',line:{width:0},layer:'above'});
shapes.push({type:'rect',xref:'paper',yref:'paper',x0:px(0),x1:px(1627),y0:py(687),y1:py(685),fillcolor:'#e6e6e6',line:{width:0},layer:'above'});
// six-pointed stars and pointing-hand glyphs anchored on the chart
function starPath(){
  const pts=[];
  for(let k=0;k<12;k++){const a=(90+k*30)*Math.PI/180, r=k%2?6.4:13.5;
    pts.push((r*0.95*Math.cos(a)).toFixed(1)+','+(r*Math.sin(a)).toFixed(1))}
  return 'M'+pts.join(' L')+' Z';
}
function anchored(x,y,path,line,fill){
  shapes.push({type:'path',xref:'x',yref:'y',xsizemode:'pixel',ysizemode:'pixel',xanchor:x,yanchor:y,path,line,fillcolor:fill,layer:'above'});
}
starRedX.forEach((x,i)=>anchored(x,starRedY[i],starPath(),{width:0},RED));
starGreenX.forEach((x,i)=>anchored(x,starGreenY[i],starPath(),{width:0},LIME));
const handPath='M0,-12 L3,-3 L5,-10 L7,-1 L9,-9 L12,0 L13,-8 L16,-2 L17,-12 L23,-24 L20,-27 L13,-21 L5,-21 L1,-17 Z M5,-13 L9,-12 L10,-16 L6,-17 Z M13,-8 L10,-14';
handX.forEach((hx,i)=>anchored(hx,handY[i],handPath,{color:'#ffff00',width:1},'rgba(0,0,0,0)'));

const layout={width:1627,height:687,autosize:false,paper_bgcolor:'#000',plot_bgcolor:'#000',
 margin:{l:L,r:1627-L-W,t:T,b:687-T-H,pad:0},showlegend:false,hovermode:false,dragmode:false,
 xaxis:{type:'linear',range:[-0.175,395.075],rangeslider:{visible:false},fixedrange:true,showgrid:false,zeroline:false,
   showline:true,mirror:true,linecolor:WHITE,linewidth:1,ticks:'outside',ticklen:3,tickcolor:WHITE,tickwidth:1,
   tickmode:'array',tickvals:timeTicks,ticktext:timeLabels,ticklabelshift:24,ticklabelstandoff:-2,
   tickfont:{family:ui,size:9.5,color:WHITE}},
 yaxis:{type:'linear',side:'right',range:[3263.8,3448.3],fixedrange:true,showgrid:false,zeroline:false,
   showline:true,mirror:true,linecolor:WHITE,linewidth:1,ticks:'outside',ticklen:3,tickcolor:WHITE,tickwidth:1,
   tickmode:'array',tickvals:priceTicks,ticktext:priceLabels,
   tickfont:{family:ui,size:9.5,color:WHITE}},
 annotations,shapes};
Plotly.newPlot('chart',traces,layout,{displayModeBar:false,staticPlot:true});
</script></body></html>
